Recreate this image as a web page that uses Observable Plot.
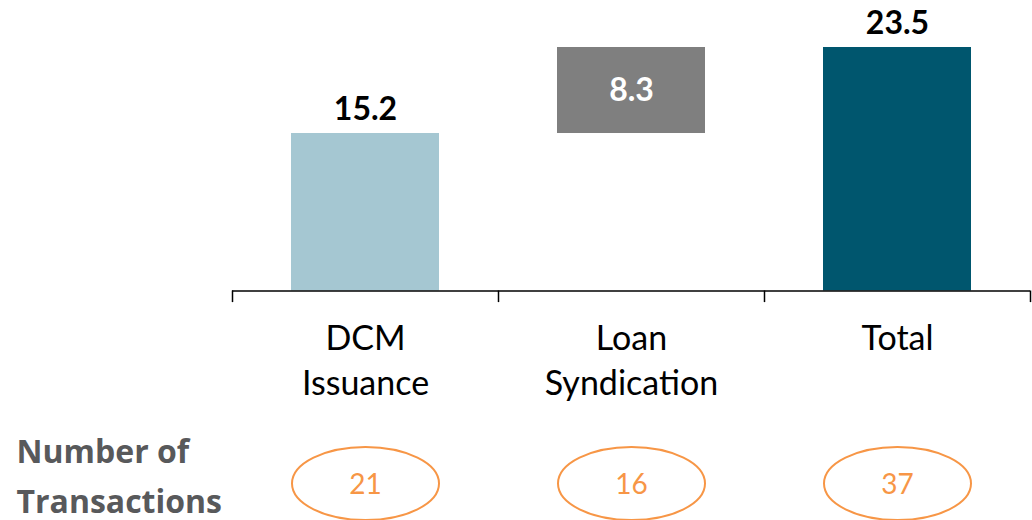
<!DOCTYPE html>
<html><head><meta charset="utf-8">
<script src="https://cdn.jsdelivr.net/npm/d3@7"></script>
<script src="https://cdn.jsdelivr.net/npm/@observablehq/plot@0.6"></script>
<style>body{margin:0;background:#fff}</style>
</head><body><div id="chart"></div>
<script>
const categories = ["DCM Issuance", "Loan Syndication", "Total"];
const tickLabels = ["DCM\nIssuance", "Loan\nSyndication", "Total"];
const starts = [0, 15.2, 0];
const values = [15.2, 8.3, 23.5];
const transactions = [21, 16, 37];
const barColors = ["#a5c7d2", "#7f7f7f", "#00566e"];
const rowLabel = "Number of\nTransactions";

const data = categories.map((c, i) => ({
  cat: c, label: tickLabels[i], y1: starts[i], y2: starts[i] + values[i],
  value: values[i], n: transactions[i], inside: starts[i] > 0
}));

const ellipse = {
  draw(context) {
    const rx = 73.5, ry = 36.5, k = 0.5522847498;
    context.moveTo(rx, 0);
    context.bezierCurveTo(rx, ry * k, rx * k, ry, 0, ry);
    context.bezierCurveTo(-rx * k, ry, -rx, ry * k, -rx, 0);
    context.bezierCurveTo(-rx, -ry * k, -rx * k, -ry, 0, -ry);
    context.bezierCurveTo(rx * k, -ry, rx, -ry * k, rx, 0);
    context.closePath();
  }
};

const W = 1032, H = 520, mL = 232, mR = 2, mT = 47, mB = 229.5;
const half = (W - mL - mR) / categories.length / 2;

const chart = Plot.plot({
  width: W, height: H,
  marginLeft: mL, marginRight: mR, marginTop: mT, marginBottom: mB,
  style: {fontFamily: "Lato, 'Open Sans', sans-serif", background: "#fff", overflow: "visible", color: "#000"},
  x: {domain: categories, padding: 0, axis: null},
  y: {domain: [0, 23.5], axis: null},
  color: {domain: categories, range: barColors},
  marks: [
    Plot.barY(data, {x: "cat", y1: "y1", y2: "y2", fill: "cat", insetLeft: 59, insetRight: 59}),
    Plot.ruleY([0], {stroke: "#000", strokeWidth: 1.5}),
    Plot.ruleX(categories, {x: d => d, y1: 0, y2: -1.12, dx: -half, stroke: "#000", strokeWidth: 1.5}),
    Plot.ruleX(categories.slice(-1), {x: d => d, y1: 0, y2: -1.12, dx: half, stroke: "#000", strokeWidth: 1.5}),
    Plot.text(data.filter(d => !d.inside), {x: "cat", y: "y2", text: d => d.value.toFixed(1), dy: -14, lineAnchor: "bottom", fontWeight: "bold", fontSize: 32, fill: "#000"}),
    Plot.text(data.filter(d => d.inside), {x: "cat", y: d => (d.y1 + d.y2) / 2, text: d => d.value.toFixed(1), lineAnchor: "middle", fontWeight: "bold", fontSize: 32, fill: "#fff"}),
    Plot.text(data, {x: "cat", frameAnchor: "bottom", text: "label", lineAnchor: "top", dy: 27, fontSize: 34, lineHeight: 1.32, fill: "#000"}),
    Plot.dot(data, {x: "cat", frameAnchor: "bottom", dy: 192.5, symbol: ellipse, r: 10, stroke: "#f79646", strokeWidth: 2, fill: "none"}),
    Plot.text(data, {x: "cat", frameAnchor: "bottom", dy: 194, lineAnchor: "middle", text: d => String(d.n), fontSize: 28, fill: "#f79646"}),
    Plot.text([rowLabel], {frameAnchor: "bottom-left", dx: -216, dy: 221.5, text: d => d, textAnchor: "start", lineAnchor: "bottom", lineHeight: 1.56, fontFamily: "'Open Sans', Lato, sans-serif", fontWeight: "bold", fontSize: 32, fill: "#58595b"})
  ]
});
document.getElementById("chart").appendChild(chart);
</script>
</body></html>
